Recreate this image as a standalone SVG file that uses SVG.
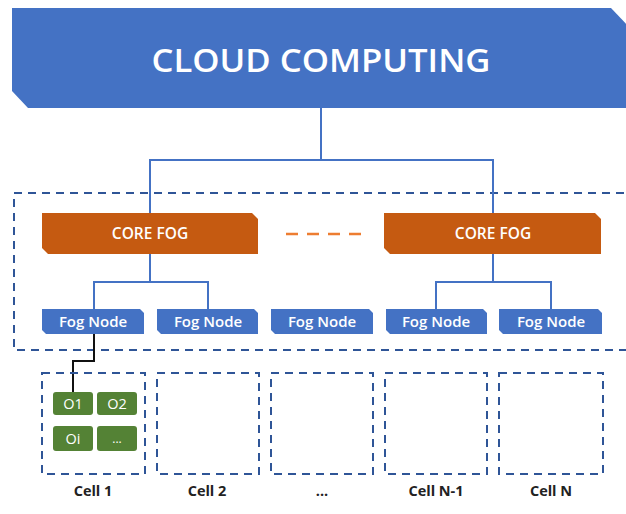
<svg xmlns="http://www.w3.org/2000/svg" width="626" height="514" viewBox="0 0 626 514">
<style>
.bg{fill:#ffffff}
.cloud{fill:#4472c4}
.core{fill:#c55a11}
.fog{fill:#4472c4}
.obj{fill:#548235}
.wt{fill:#ffffff;font-family:"Open Sans","Liberation Sans",sans-serif;text-anchor:middle}
.lbl{fill:#222222;font-family:"Open Sans","Liberation Sans",sans-serif;font-weight:bold;font-size:14.5px;text-anchor:middle}
.dash{fill:none;stroke:#2f5597;stroke-width:2;stroke-dasharray:8 6}
.conn{fill:none;stroke:#4472c4;stroke-width:2}
</style>
<rect class="bg" x="0" y="0" width="626" height="514"/>
<g id="cloud">
<polygon class="cloud" points="12,8 611,8 630,28 630,108 28,108 12,91"/>
<text class="wt" x="321" y="72" font-size="33" font-weight="600" textLength="339" lengthAdjust="spacingAndGlyphs">CLOUD COMPUTING</text>
</g>
<g id="fog-layer">
<rect class="dash" x="14" y="193" width="620" height="157"/>
</g>
<g id="connectors">
<polyline class="conn" points="321,108 321,160"/>
<polyline class="conn" points="150,213 150,160 493,160 493,213"/>
<polyline class="conn" points="94,309 94,282 208,282 208,309"/>
<line class="conn" x1="150" y1="254" x2="150" y2="282"/>
<polyline class="conn" points="436,309 436,282 551,282 551,309"/>
<line class="conn" x1="493" y1="254" x2="493" y2="282"/>
<line x1="286" y1="234" x2="364" y2="234" stroke="#ed7d31" stroke-width="2.5" stroke-dasharray="12 9"/>
<polyline points="94,334 94,361 73,361 73,392" fill="none" stroke="#111111" stroke-width="2"/>
</g>
<g id="core-fog-1">
<polygon class="core" points="42,213 252,213 258,219 258,254 48,254 42,248"/>
<text class="wt" x="150" y="239" font-size="15.5" font-weight="600">CORE FOG</text>
</g>
<g id="core-fog-2">
<polygon class="core" points="384,213 595,213 601,219 601,254 390,254 384,248"/>
<text class="wt" x="493" y="239" font-size="15.5" font-weight="600">CORE FOG</text>
</g>
<g id="fog-node-1">
<polygon class="fog" points="42,309 140,309 144,313 144,334 46,334 42,330"/>
<text class="wt" x="93" y="327" font-size="15" font-weight="600">Fog Node</text>
</g>
<g id="fog-node-2">
<polygon class="fog" points="157,309 254,309 258,313 258,334 161,334 157,330"/>
<text class="wt" x="208" y="327" font-size="15" font-weight="600">Fog Node</text>
</g>
<g id="fog-node-3">
<polygon class="fog" points="271,309 369,309 373,313 373,334 275,334 271,330"/>
<text class="wt" x="322" y="327" font-size="15" font-weight="600">Fog Node</text>
</g>
<g id="fog-node-4">
<polygon class="fog" points="386,309 483,309 487,313 487,334 390,334 386,330"/>
<text class="wt" x="436" y="327" font-size="15" font-weight="600">Fog Node</text>
</g>
<g id="fog-node-5">
<polygon class="fog" points="499,309 598,309 602,313 602,334 503,334 499,330"/>
<text class="wt" x="551" y="327" font-size="15" font-weight="600">Fog Node</text>
</g>
<g id="cell-1">
<rect class="dash" x="42" y="373" width="103" height="101"/>
<rect class="obj" x="53" y="392" width="40" height="23" rx="3"/>
<text class="wt" x="73" y="409" font-size="14.5">O1</text>
<rect class="obj" x="97" y="392" width="40" height="23" rx="3"/>
<text class="wt" x="117" y="409" font-size="14.5">O2</text>
<rect class="obj" x="53" y="426" width="40" height="25" rx="3"/>
<text class="wt" x="73" y="444" font-size="14.5">Oi</text>
<rect class="obj" x="97" y="426" width="40" height="25" rx="3"/>
<text class="wt" x="117" y="443" font-size="12">...</text>
<text class="lbl" x="93" y="496">Cell 1</text>
</g>
<g id="cell-2">
<rect class="dash" x="157" y="373" width="102" height="101"/>
<text class="lbl" x="207" y="496">Cell 2</text>
</g>
<g id="cell-dots">
<rect class="dash" x="271" y="373" width="102" height="101"/>
<text class="lbl" x="322" y="496">...</text>
</g>
<g id="cell-n-1">
<rect class="dash" x="385" y="373" width="102" height="101"/>
<text class="lbl" x="436" y="496">Cell N-1</text>
</g>
<g id="cell-n">
<rect class="dash" x="499" y="373" width="104" height="101"/>
<text class="lbl" x="551" y="496">Cell N</text>
</g>
</svg>
